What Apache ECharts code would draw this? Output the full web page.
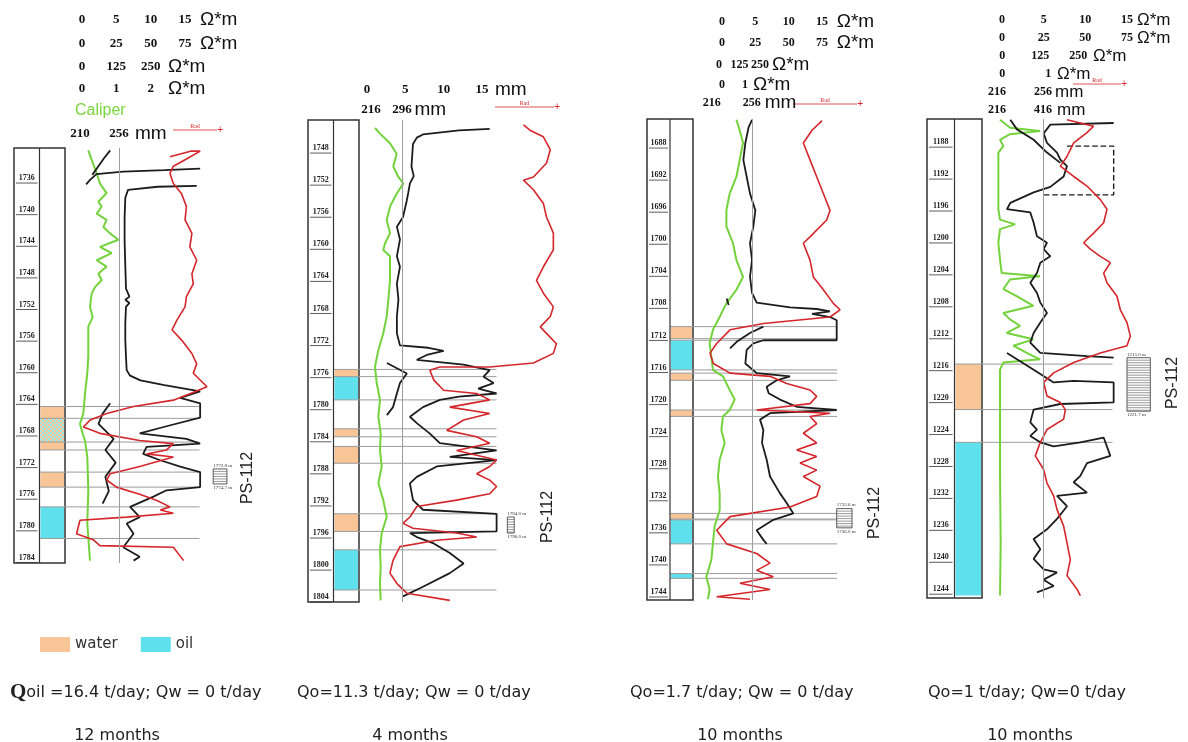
<!DOCTYPE html>
<html>
<head>
<meta charset="utf-8">
<title>PS-112 well logs</title>
<script src="https://cdn.jsdelivr.net/npm/echarts@6/dist/echarts.min.js"></script>
<style>
  html, body { margin: 0; padding: 0; background: #fff; }
  #main { width: 1188px; height: 742px; }
</style>
</head>
<body>
<div id="main"></div>
<script>
// ---- data (depth in m, resistivity in Ohm*m, caliper in mm) ----
var GAP = ['-', '-'];

// header scale ticks
var ohm15 = [0, 5, 10, 15];
var ohm75 = [0, 25, 50, 75];
var ohm250 = [0, 125, 250];
var ohm2 = [0, 1, 2];
var ohm1 = [0, 1];
var cal1 = [210, 256];
var cal2 = [216, 296];
var cal3 = [216, 256];
var cal4a = [216, 256];
var cal4b = [216, 416];

// depth ticks
var depth1 = [1736, 1740, 1744, 1748, 1752, 1756, 1760, 1764, 1768, 1772, 1776, 1780, 1784];
var depth2 = [1748, 1752, 1756, 1760, 1764, 1768, 1772, 1776, 1780, 1784, 1788, 1792, 1796, 1800, 1804];
var depth3 = [1688, 1692, 1696, 1700, 1704, 1708, 1712, 1716, 1720, 1724, 1728, 1732, 1736, 1740, 1744];
var depth4 = [1188, 1192, 1196, 1200, 1204, 1208, 1212, 1216, 1220, 1224, 1228, 1232, 1236, 1240, 1244];

// water / oil intervals [top, bottom]
var water1 = [[1764.9, 1766.4], [1769.4, 1770.4], [1773.2, 1775.1]];
var mixed1 = [[1766.4, 1769.4]];
var oil1 = [[1777.6, 1781.6]];
var water2 = [[1775.6, 1776.5], [1783.0, 1784.0], [1785.2, 1787.3], [1793.6, 1795.8]];
var oil2 = [[1776.5, 1779.4], [1798.1, 1803.1]];
var water3 = [[1710.9, 1712.4], [1716.7, 1717.6], [1721.3, 1722.1], [1734.2, 1734.9]];
var oil3 = [[1712.6, 1716.3], [1735.0, 1738.0], [1741.7, 1742.3]];
var water4 = [[1215.8, 1221.5]];
var oil4 = [[1225.6, 1244.8]];

// perforated intervals
var perf1 = [[1772.8, 1774.7]];
var perf2 = [[1794.0, 1796.0]];
var perf3 = [[1733.6, 1736.0]];
var perf4 = [[1215.0, 1221.7]];

// panel 1 curves
var caliper1 = [[219.8,1732.5],[223.8,1733.7],[229.7,1735.4],[233.6,1736.7],[241.4,1737.9],[231.6,1739.0],[235.6,1739.6],[229.7,1740.5],[241.4,1741.3],[237.5,1742.2],[245.4,1743.0],[255.2,1743.8],[233.6,1744.7],[247.4,1745.5],[229.7,1746.4],[241.4,1747.2],[231.6,1748.1],[235.6,1748.9],[227.7,1749.8],[223.8,1750.6],[221.8,1752.3],[225.0,1753.6],[219.8,1754.8],[219.8,1758.6],[218.6,1760.7],[215.9,1763.3],[213.9,1765.8],[210.0,1767.1],[213.1,1768.3],[215.9,1769.2],[218.6,1771.3],[219.8,1775.5],[218.6,1779.7],[221.8,1784.4]];
var deep1 = [[17.2,1734.8],[12,1735.0],[6,1735.2],[2.1,1735.5],[1.2,1736.2],[0.6,1736.8],GAP,
  [16.7,1737.0],[11,1737.1],[6.7,1737.5],[6.3,1738.5],[6.2,1741],[6.2,1744],[6.3,1747],[6.4,1750],[6.9,1751.0],[6.3,1751.4],[6.9,1751.8],[6.4,1752.3],[6.3,1754.4],[6.3,1756.5],[6.4,1758.6],[6.5,1760.3],[7.0,1761.0],[8.5,1761.6],[12,1762.2],[17.2,1763.0],[14.3,1763.8],[17.2,1764.5],[17.2,1766.3],[12.3,1767.4],[8.4,1768.3],[15.2,1769.0],[17.2,1769.6],[9.4,1770.0],[8.9,1770.9],[11.4,1771.7],[14.3,1772.5],[17.2,1773.2],[17.2,1775.1],[12.3,1775.5],[10.4,1776.3],[7.0,1777.6],[8.4,1778.9],[6.5,1779.7],[7.5,1781.0],[6.0,1782.7],[8.4,1783.9],[7.5,1784.4]];
var shallow1 = [[4.1,1732.5],[3.2,1733.5],[2.3,1734.6],[1.5,1735.6],GAP,[4.1,1764.5],[3.0,1765.8],[2.4,1767.1],[4.6,1769.0],[3.4,1770.4],[4.9,1772.0],[3.4,1773.8],[3.9,1775.6],[3.0,1777.2]];
var red1 = [[12.8,1733.3],[15.8,1732.6],[17.2,1732.6],[15.2,1733.6],[13.3,1734.5],[12.8,1735.4],[13.3,1736.7],[14.5,1738.0],[15.2,1739.6],[15.0,1741.3],[16.0,1743.0],[15.7,1744.7],[16.7,1746.4],[16.0,1748.1],[16.2,1749.4],[15.2,1751.0],[15.0,1752.3],[13.8,1754.0],[13.1,1755.2],[14.5,1756.5],[16.0,1758.2],[16.7,1759.5],[16.2,1760.7],[18.2,1762.4],[15.7,1763.3],[13.3,1764.1],[7.5,1764.9],[3.6,1765.8],[1.2,1766.6],[0.2,1767.5],[2.6,1768.3],[8.4,1769.2],[13.3,1769.6],[12.3,1770.4],[9.4,1770.9],[13.3,1771.3],[8.4,1772.5],[4.1,1773.4],[3.6,1774.2],[5.0,1775.1],[8.4,1776.0],[10.9,1776.8],[12.8,1777.6],[11.4,1778.0],[13.3,1778.4],[6.5,1778.9],[-0.3,1779.3],[-0.8,1781.0],[1.7,1781.8],[2.6,1782.5],[13.3,1782.7],[14.8,1784.4]];

// panel 2 curves
var caliper2 = [[226.3,1745.5],[239.2,1746.2],[265.0,1747.4],[282.2,1748.7],[273.5,1750.3],[286.5,1751.6],[299.4,1752.4],[282.2,1753.7],[265.0,1755.3],[256.5,1757.0],[265.0,1758.6],[252.1,1759.9],[247.7,1760.7],[265.0,1761.5],[265.0,1762.8],[265.0,1764.5],[260.6,1767.0],[256.5,1769.0],[247.7,1771.1],[234.9,1773.2],[226.3,1775.3],[230.7,1777.3],[239.2,1779.4],[234.9,1781.5],[241.0,1783.6],[239.2,1785.7],[243.6,1787.7],[234.9,1789.8],[247.7,1791.9],[256.5,1794.0],[243.6,1796.0],[239.2,1798.1],[241.0,1800.2],[239.2,1802.3],[241.0,1804.4]];
var deep2 = [[16.0,1745.6],[12.0,1745.8],[7.3,1746.3],[6.5,1746.7],[6.0,1747.5],[5.8,1750.3],[6.1,1751.5],[5.6,1752.4],[5.4,1753.5],[5.2,1754.5],[4.7,1756.6],[3.9,1757.8],[4.3,1759.4],[3.9,1761.5],[4.3,1762.8],[3.9,1764.9],[4.1,1766.9],[3.9,1769.0],[3.9,1771.1],[4.3,1772.6],[8.0,1772.9],[10.0,1773.3],[7.8,1773.8],[6.5,1774.4],[12.6,1775.0],[16.0,1775.7],[15.2,1776.5],[16.5,1777.3],[14.5,1778.0],[16.9,1778.6],[12.0,1779.0],[9.5,1779.4],[7.3,1780.3],[5.6,1781.5],[6.5,1782.3],[8.2,1783.6],[9.5,1784.8],[16.9,1785.7],[10.8,1786.5],[16.9,1786.9],[9.1,1787.7],[6.5,1789.0],[5.6,1789.8],[6.0,1791.9],[7.3,1793.1],[16.9,1793.6],[16.9,1795.8],[5.6,1796.0],[6.5,1796.5],[8.7,1797.3],[10.8,1798.5],[12.6,1799.8],[10.8,1801.0],[7.3,1802.7],[4.7,1803.9]];
var shallow2 = [[2.6,1774.8],[5.2,1776.1],[4.3,1777.3],[3.9,1778.6],[3.4,1780.3],[2.6,1781.3]];
var red2 = [[20.4,1745.1],[21.3,1745.8],[23.0,1746.6],[23.9,1748.2],[23.4,1749.9],[21.7,1751.6],[20.4,1752.0],[21.7,1753.2],[23.0,1754.9],[23.4,1756.6],[24.3,1758.6],[24.3,1760.7],[23.0,1762.8],[22.1,1764.5],[23.0,1766.1],[24.3,1767.8],[23.9,1769.0],[22.6,1770.3],[23.4,1771.1],[24.7,1772.4],[24.3,1773.6],[21.7,1774.8],[16.0,1775.3],[9.5,1775.3],[8.2,1775.7],[8.7,1776.9],[10.0,1778.2],[14.3,1778.6],[16.0,1779.4],[10.8,1780.3],[16.0,1781.1],[12.6,1781.9],[10.4,1783.2],[14.3,1784.0],[16.0,1784.8],[11.7,1785.7],[16.9,1786.9],[16.0,1787.7],[14.3,1788.6],[16.0,1789.4],[16.9,1790.2],[16.0,1791.1],[11.7,1791.9],[6.5,1792.7],[5.6,1794.0],[4.7,1794.8],[6.0,1795.4],[11.7,1796.0],[14.3,1796.5],[9.1,1796.9],[4.3,1797.7],[3.4,1799.4],[3.0,1801.0],[3.9,1802.3],[5.2,1803.5],[10.8,1804.4]];

// panel 3 curves
var caliper3 = [[240.7,1685.1],[244.0,1686.4],[247.3,1688.0],[244.0,1690.1],[240.7,1692.2],[234.0,1694.3],[230.7,1696.4],[230.7,1698.4],[237.3,1700.5],[240.7,1702.6],[247.3,1704.7],[240.7,1706.3],[230.7,1708.0],[224.0,1709.7],[217.3,1711.3],[214.0,1713.0],[215.7,1714.6],[217.3,1716.3],[227.3,1717.1],[234.0,1718.8],[239.0,1720.0],[234.0,1721.3],[227.3,1722.1],[225.7,1723.8],[229.0,1725.4],[224.0,1727.5],[222.3,1729.6],[224.0,1731.7],[224.0,1733.8],[219.0,1735.8],[217.3,1737.9],[215.7,1740.0],[210.7,1742.1],[214.0,1743.7],[212.3,1744.9]];
var deep3 = [[4.5,1685.1],[4.0,1686.0],[3.5,1688.0],[3.2,1690.1],[3.7,1692.2],[4.2,1694.3],[5.0,1696.4],[4.7,1698.4],[4.2,1700.5],[4.5,1702.6],[4.2,1704.7],[4.5,1706.7],[5.2,1707.9],[10.2,1708.5],[14.2,1708.7],[16.2,1709.0],[13.5,1709.3],[16.2,1709.7],[17.2,1710.1],[17.2,1712.6],[6.2,1712.6],[4.7,1713.0],[3.7,1713.8],[3.5,1715.5],[5.2,1716.7],[10.2,1717.1],[8.2,1717.6],[6.7,1718.4],[7.0,1719.2],[8.7,1720.0],[11.2,1720.9],[17.2,1721.3],[7.2,1721.7],[5.7,1722.5],[6.2,1723.8],[6.0,1725.4],[6.7,1727.5],[7.2,1729.6],[8.7,1731.7],[9.7,1732.9],[10.7,1734.2],[7.7,1735.0],[5.2,1736.3],[6.2,1737.5],[6.7,1738.0]];
var shallow3 = [[0.7,1707.4],[1.0,1708.2],GAP,[6.2,1710.9],[4.2,1711.7],[2.2,1712.8],[1.2,1713.6]];
var red3 = [[15.0,1685.2],[13.5,1686.4],[12.2,1688.0],[13.2,1690.1],[14.2,1692.2],[15.2,1694.3],[16.2,1696.4],[15.7,1697.6],[13.2,1699.7],[12.2,1700.5],[13.2,1702.6],[13.7,1704.7],[15.2,1706.3],[16.7,1708.0],[17.7,1708.8],[16.2,1709.7],[6.2,1710.5],[1.2,1711.3],[-0.8,1713.0],[-1.8,1714.2],[-1.3,1715.5],[1.2,1716.7],[7.2,1717.1],[9.7,1718.0],[13.2,1718.8],[14.2,1719.6],[13.2,1720.5],[5.2,1721.3],[16.2,1721.7],[13.2,1722.1],[14.2,1723.0],[12.2,1724.2],[14.2,1725.4],[11.2,1726.3],[14.2,1727.1],[11.7,1727.9],[14.2,1728.8],[12.2,1729.6],[14.7,1730.8],[14.2,1732.1],[10.2,1733.4],[1.2,1734.6],[-0.8,1736.3],[0.7,1738.0],[5.2,1739.2],[7.2,1740.4],[5.2,1741.3],[7.7,1742.1],[2.7,1742.9],[7.2,1743.7],[-0.8,1744.6],[4.2,1744.9]];

// panel 4 curves
var caliper4 = [[229.1,1185.2],[272.6,1186.2],[403.1,1186.6],[272.6,1187.0],[229.1,1187.7],[243.6,1188.5],[221.8,1189.3],[221.8,1192.3],[221.8,1196.4],[229.1,1197.7],[294.3,1198.3],[229.1,1198.9],[221.8,1200.6],[229.1,1202.7],[236.3,1204.4],[403.1,1204.8],[272.6,1205.2],[243.6,1206.4],[301.6,1207.3],[374.1,1208.5],[243.6,1209.4],[272.6,1210.2],[316.1,1211.0],[258.1,1211.9],[374.1,1212.7],[287.1,1213.5],[345.1,1214.4],[403.1,1215.2],[243.6,1215.6],[229.1,1216.5],[229.1,1221.5],[229.1,1229.8],[232.0,1238.2],[229.1,1244.8]];
var deep4 = [[13.4,1185.6],[5.8,1185.8],[5.0,1186.9],[5.4,1188.1],[6.6,1189.3],[7.0,1190.2],[7.8,1191.0],[7.4,1192.3],[5.8,1193.6],[3.8,1194.3],[1.0,1195.6],[0.6,1196.4],[3.4,1196.8],[3.8,1198.1],[4.2,1199.8],[5.4,1200.6],[5.0,1201.4],[5.8,1202.3],[4.6,1203.1],[4.2,1204.4],[3.4,1205.6],[4.2,1206.9],[4.6,1208.1],[5.4,1209.4],[4.6,1210.6],[3.8,1211.9],[3.4,1213.1],[4.6,1214.4],[10.2,1214.8],[13.4,1215.0],GAP,
  [0.6,1214.4],[3.8,1216.5],[6.2,1218.1],[8.6,1217.9],[13.4,1218.1],[13.4,1220.6],[7.0,1220.8],[3.8,1221.5],[3.4,1223.1],[4.2,1224.0],[3.4,1224.8],[4.6,1225.6],[6.2,1226.1],[9.4,1225.6],[12.2,1225.0],[13.0,1227.3],[10.2,1228.2],[9.4,1229.8],[8.6,1230.6],[10.2,1231.9],[6.6,1232.3],[7.8,1233.6],[6.6,1235.2],[5.4,1236.5],[3.8,1237.7],[4.6,1239.0],[3.8,1240.2],[5.0,1241.5],[6.6,1241.9],[5.0,1242.8],[6.2,1243.6],[4.2,1244.4]];
var shallow4 = [[1.0,1185.2],[1.8,1186.4],[3.8,1187.7],[5.4,1189.3],[7.0,1190.6]];
var dashed4 = [[7.8,1188.5],[13.4,1188.5],[13.4,1194.6],[5.0,1194.6]];
var red4 = [[7.8,1185.2],[11.0,1186.0],[10.2,1186.8],[8.6,1188.1],[7.8,1189.8],[7.0,1191.0],[8.6,1192.3],[10.2,1193.5],[11.8,1195.2],[12.6,1196.4],[12.2,1198.1],[11.0,1199.4],[9.8,1200.6],[10.6,1201.4],[11.8,1202.3],[13.0,1203.1],[12.2,1204.4],[12.6,1205.6],[13.8,1207.3],[14.2,1209.0],[15.0,1210.6],[15.4,1212.3],[15.0,1213.5],[11.8,1214.4],[8.6,1215.6],[6.2,1216.9],[5.0,1218.1],[5.4,1219.8],[7.0,1220.6],[7.6,1221.5],[7.4,1222.7],[5.4,1224.0],[4.6,1225.6],[4.0,1227.3],[5.0,1229.0],[5.4,1230.7],[6.2,1232.3],[6.6,1234.0],[7.4,1236.1],[7.8,1238.2],[8.2,1240.3],[7.8,1242.3],[9.0,1244.0],[9.4,1244.8]];

// production
var qOil = [16.4, 11.3, 1.7, 1];
var qWater = [0, 0, 0, 0];
var months = [12, 4, 10, 10];

// ---- styles ----
var GREEN = '#74d23c', BLACK = '#1c1c1c', RED = '#d4262b', LINE_GRAY = '#9c9c9c';
var WATER = '#f8c596', OIL = '#5fe1ed';

var mixFill = (function () {
  var c = document.createElement('canvas');
  c.width = 4; c.height = 4;
  var g = c.getContext('2d');
  g.fillStyle = '#9fe8e6'; g.fillRect(0, 0, 4, 4);
  g.fillStyle = WATER; g.fillRect(0, 0, 2, 2); g.fillRect(2, 2, 2, 2);
  return {image: c, repeat: 'repeat'};
})();

var panels = [
  {
    ticks: depth1, water: water1, oil: oil1, mixed: mixed1, perf: perf1,
    caliper: caliper1, black: [deep1, shallow1], red: red1, dashed: null,
    depth: [1732.2, 1784.7], box: [14, 148, 51, 415], track: [68.3, 144.2],
    rows: [
      {vals: ohm15, min: -2, max: 19, off: 128, unit: 'Ω*m', gap: -12.5},
      {vals: ohm75, min: -10, max: 95, off: 104, unit: 'Ω*m', gap: -12.5},
      {vals: ohm250, min: -50, max: 475, off: 81, unit: 'Ω*m', gap: -44.5},
      {vals: ohm2, min: -0.4, max: 3.8, off: 59, unit: 'Ω*m', gap: -44.5},
      {vals: cal1, min: 196.2, max: 366.3, off: 14, unit: 'mm', gap: -77.5}
    ],
    cal: 4, bit: 256, perfX: [19.1, 21.1], lineLen: 160, font: {num: 13, unit: 19},
    ps: [248, 478], rad: [173, 223, 128]
  },
  {
    ticks: depth2, water: water2, oil: oil2, mixed: [], perf: perf2,
    caliper: caliper2, black: [deep2, shallow2], red: red2, dashed: null,
    depth: [1744.5, 1804.6], box: [308, 120, 51, 482], track: [359.3, 207.1],
    rows: [
      {vals: ohm15, min: -1, max: 26, off: 30, unit: 'mm', gap: -71.4},
      {vals: cal2, min: 185.8, max: 720.3, off: 10, unit: 'mm', gap: -152}
    ],
    cal: 1, bit: 296, perfX: [18.3, 19.2], lineLen: 163, font: {num: 13, unit: 19},
    ps: [548, 517], rad: [495, 560, 105]
  },
  {
    ticks: depth3, water: water3, oil: oil3, mixed: [], perf: perf3,
    caliper: caliper3, black: [deep3, shallow3], red: red3, dashed: null,
    depth: [1685.0, 1745.0], box: [647, 119, 46, 481], track: [702, 150.7],
    rows: [
      {vals: ohm15, min: -3, max: 19.6, off: 97, unit: 'Ω*m', gap: -16},
      {vals: ohm75, min: -15, max: 98, off: 76, unit: 'Ω*m', gap: -16},
      {vals: ohm250, min: -103.7, max: 815.2, off: 54, unit: 'Ω*m', gap: -80.7},
      {vals: ohm1, min: -0.87, max: 5.68, off: 34, unit: 'Ω*m', gap: -99.7},
      {vals: cal3, min: 206.4, max: 356.6, off: 16, unit: 'mm', gap: -88}
    ],
    cal: 4, bit: 256, perfX: [17.2, 19.5], lineLen: 167, font: {num: 12, unit: 19},
    ps: [875, 513], rad: [793, 863, 102]
  },
  {
    ticks: depth4, water: water4, oil: oil4, mixed: [], perf: perf4,
    caliper: caliper4, black: [deep4, shallow4], red: red4, dashed: dashed4,
    depth: [1185.1, 1245.1], box: [927, 119, 55, 479], track: [985.3, 166.7],
    rows: [
      {vals: ohm15, min: -2, max: 18, off: 99, unit: 'Ω*m', gap: -15},
      {vals: ohm75, min: -10, max: 90, off: 81, unit: 'Ω*m', gap: -15},
      {vals: ohm250, min: -56, max: 493, off: 63, unit: 'Ω*m', gap: -59},
      {vals: ohm1, min: -0.37, max: 3.26, off: 45, unit: 'Ω*m', gap: -95},
      {vals: cal4a, min: 205.8, max: 350.8, off: 27, unit: 'mm', gap: -97},
      {vals: cal4b, min: 165.1, max: 889.9, off: 9, unit: 'mm', gap: -95}
    ],
    cal: 5, bit: 416, perfX: [15.0, 17.8], lineLen: 158, font: {num: 12, unit: 17},
    ps: [1173, 383], rad: [1073, 1127, 82]
  }
];

// ---- render helpers ----
function tickItem(params, api) {
  var d = api.value(0);
  var a = api.coord([0, d]), b = api.coord([1, d]);
  var kids = [
    {type: 'line', shape: {x1: a[0] + 2, y1: a[1] + 5, x2: b[0] - 2, y2: a[1] + 5}, style: {stroke: '#333', lineWidth: 0.8}},
    {type: 'text', style: {text: String(d), x: (a[0] + b[0]) / 2, y: a[1], align: 'center', verticalAlign: 'middle',
      font: 'bold 8px "Liberation Serif"', fill: '#222'}}
  ];
  if (params.dataIndex === 0) {
    var cs = params.coordSys;
    kids.push({type: 'line', shape: {x1: b[0], y1: cs.y, x2: b[0], y2: cs.y + cs.height}, style: {stroke: '#333', lineWidth: 1.2}});
  }
  return {type: 'group', children: kids};
}

function zoneItem(fill) {
  return function (params, api) {
    var a = api.coord([1, api.value(0)]), b = api.coord([2, api.value(1)]);
    return {type: 'rect', shape: {x: a[0] + 1, y: a[1], width: b[0] - a[0] - 2, height: b[1] - a[1]},
      style: {fill: fill || api.visual('color')}};
  };
}

function boundaryItem(len) {
  return function (params, api) {
    var a = api.coord([1, api.value(0)]);
    return {type: 'line', shape: {x1: a[0], y1: a[1], x2: a[0] + len, y2: a[1]}, style: {stroke: LINE_GRAY, lineWidth: 1}};
  };
}

function perfItem(px) {
  return function (params, api) {
    var top = api.value(0), bot = api.value(1);
    var a = api.coord([px[0], top]), b = api.coord([px[1], bot]);
    var kids = [{type: 'rect', shape: {x: a[0], y: a[1], width: b[0] - a[0], height: b[1] - a[1]},
      style: {fill: '#fff', stroke: '#333', lineWidth: 0.8}}];
    for (var y = a[1] + 2.5; y < b[1] - 0.5; y += 2.5) {
      kids.push({type: 'line', shape: {x1: a[0], y1: y, x2: b[0], y2: y}, style: {stroke: '#555', lineWidth: 0.6}});
    }
    kids.push({type: 'text', style: {text: top.toFixed(1) + ' m', x: a[0], y: a[1] - 1, verticalAlign: 'bottom', font: '5px "Liberation Serif"', fill: '#333'}});
    kids.push({type: 'text', style: {text: bot.toFixed(1) + ' m', x: a[0], y: b[1] + 1, verticalAlign: 'top', font: '5px "Liberation Serif"', fill: '#333'}});
    return {type: 'group', children: kids};
  };
}

function lineSeries(name, xi, yi, data, color, width, dashed) {
  return {
    type: 'line', name: name, xAxisIndex: xi, yAxisIndex: yi, data: data,
    showSymbol: false, symbol: 'none', silent: true, z: 3, connectNulls: false,
    lineStyle: {color: color, width: width, type: dashed ? 'dashed' : 'solid'}
  };
}

// ---- build option ----
var grids = [], xAxes = [], yAxes = [], series = [], graphics = [];

panels.forEach(function (p) {
  var gBox = grids.length;
  grids.push({left: p.box[0], top: p.box[1], width: p.box[2], height: p.box[3], show: true,
    borderColor: '#333', borderWidth: 1.5, backgroundColor: 'transparent', containLabel: false});
  var gTrk = grids.length;
  grids.push({left: p.track[0], top: p.box[1], width: p.track[1], height: p.box[3], containLabel: false});

  var xBox = xAxes.length;
  xAxes.push({gridIndex: gBox, type: 'value', min: 0, max: 2, show: false});
  var yBox = yAxes.length;
  yAxes.push({gridIndex: gBox, type: 'value', inverse: true, min: p.depth[0], max: p.depth[1], show: false});
  var yTrk = yAxes.length;
  yAxes.push({gridIndex: gTrk, type: 'value', inverse: true, min: p.depth[0], max: p.depth[1], show: false});

  var first = xAxes.length;
  p.rows.forEach(function (r) {
    xAxes.push({
      gridIndex: gTrk, type: 'value', position: 'top', offset: r.off, min: r.min, max: r.max,
      axisLine: {show: false}, axisTick: {show: false}, splitLine: {show: false},
      axisLabel: {customValues: r.vals, margin: 0, verticalAlign: 'middle', color: '#111', hideOverlap: false,
        showMinLabel: true, showMaxLabel: true,
        fontFamily: 'Liberation Serif', fontWeight: 'bold', fontSize: p.font.num},
      name: r.unit, nameLocation: 'end', nameGap: r.gap, nameMoveOverlap: false,
      nameTextStyle: {fontFamily: 'Liberation Sans', fontSize: p.font.unit, color: '#111', verticalAlign: 'middle'}
    });
  });
  var xRes = first, xCal = first + p.cal;

  // depth column
  series.push({type: 'custom', name: 'depth', xAxisIndex: xBox, yAxisIndex: yBox, silent: true, z: 4,
    data: p.ticks.map(function (d) { return [d]; }), renderItem: tickItem});
  series.push({type: 'custom', name: 'water', xAxisIndex: xBox, yAxisIndex: yBox, silent: true, z: 2,
    itemStyle: {color: WATER}, data: p.water, renderItem: zoneItem()});
  series.push({type: 'custom', name: 'oil', xAxisIndex: xBox, yAxisIndex: yBox, silent: true, z: 2,
    itemStyle: {color: OIL}, data: p.oil, renderItem: zoneItem()});
  if (p.mixed.length) {
    series.push({type: 'custom', name: 'water+oil', xAxisIndex: xBox, yAxisIndex: yBox, silent: true, z: 2,
      data: p.mixed, renderItem: zoneItem(mixFill)});
  }
  var edges = [];
  p.water.concat(p.oil, p.mixed).forEach(function (z) {
    z.forEach(function (d) { if (edges.indexOf(d) < 0 && p.depth[1] - d > 0.5) edges.push(d); });
  });
  series.push({type: 'custom', name: 'contacts', xAxisIndex: xBox, yAxisIndex: yBox, silent: true, z: 2,
    data: edges.map(function (d) { return [d]; }), renderItem: boundaryItem(p.lineLen)});

  // log curves
  var cal = lineSeries('caliper', xCal, yTrk, p.caliper, GREEN, 2);
  cal.markLine = {silent: true, symbol: 'none', label: {show: false}, animation: false,
    lineStyle: {color: LINE_GRAY, type: 'solid', width: 1}, data: [{xAxis: p.bit}]};
  series.push(cal);
  p.black.forEach(function (b) { series.push(lineSeries('resistivity', xRes, yTrk, b, BLACK, 1.8)); });
  if (p.dashed) series.push(lineSeries('resistivity', xRes, yTrk, p.dashed, BLACK, 1.4, true));
  series.push(lineSeries('rad', xRes, yTrk, p.red, RED, 1.6));
  series.push({type: 'custom', name: 'perforation', xAxisIndex: xRes, yAxisIndex: yTrk, silent: true, z: 4,
    data: p.perf, renderItem: perfItem(p.perfX)});

  // well name and red curve key
  graphics.push({type: 'text', x: p.ps[0], y: p.ps[1], rotation: Math.PI / 2,
    style: {text: 'PS-112', align: 'center', verticalAlign: 'middle', font: '16px "Liberation Sans"', fill: '#222'}});
  graphics.push({type: 'group', children: [
    {type: 'line', shape: {x1: p.rad[0], y1: p.rad[2] + 2, x2: p.rad[1] - 6, y2: p.rad[2] + 2}, style: {stroke: RED, lineWidth: 0.8}},
    {type: 'text', x: (p.rad[0] + p.rad[1]) / 2 - 3, y: p.rad[2] + 1,
      style: {text: 'Rad', align: 'center', verticalAlign: 'bottom', font: '6px "Liberation Serif"', fill: RED}},
    {type: 'text', x: p.rad[1], y: p.rad[2] + 2,
      style: {text: '+', align: 'right', verticalAlign: 'middle', font: '10px "Liberation Sans"', fill: RED}}
  ]});
});

graphics.push({type: 'text', x: 75, y: 111,
  style: {text: 'Caliper', align: 'left', verticalAlign: 'middle', font: '16px "Liberation Sans"', fill: '#7ad63e'}});

var prodText = [
  '{q|Q}{s|oil =' + qOil[0] + ' t/day; Qw = ' + qWater[0] + ' t/day}',
  '{s|Qo=' + qOil[1] + ' t/day; Qw = ' + qWater[1] + ' t/day}',
  '{s|Qo=' + qOil[2] + ' t/day; Qw = ' + qWater[2] + ' t/day}',
  '{s|Qo=' + qOil[3] + ' t/day; Qw=' + qWater[3] + ' t/day}'
];
var prodX = [10, 297, 630, 928];
var monthX = [117, 410, 740, 1030];
prodText.forEach(function (t, i) {
  graphics.push({type: 'text', x: prodX[i], y: 693, style: {text: t, align: 'left', verticalAlign: 'middle', fill: '#222',
    rich: {q: {font: 'bold 21px "Liberation Serif"', fill: '#222'}, s: {font: '16px "DejaVu Sans"', fill: '#222'}}}});
  graphics.push({type: 'text', x: monthX[i], y: 736, style: {text: months[i] + ' months', align: 'center', verticalAlign: 'middle',
    font: '16px "DejaVu Sans"', fill: '#222'}});
});

var chart = echarts.init(document.getElementById('main'), null, {renderer: 'canvas'});
chart.setOption({
  animation: false,
  backgroundColor: '#fff',
  legend: {
    data: ['water', 'oil'], left: 35, top: 632, icon: 'rect', itemWidth: 30, itemHeight: 15, itemGap: 23,
    selectedMode: false, textStyle: {fontFamily: 'DejaVu Sans', fontSize: 15, color: '#333'}
  },
  grid: grids,
  xAxis: xAxes,
  yAxis: yAxes,
  series: series,
  graphic: graphics
});
</script>
</body>
</html>
